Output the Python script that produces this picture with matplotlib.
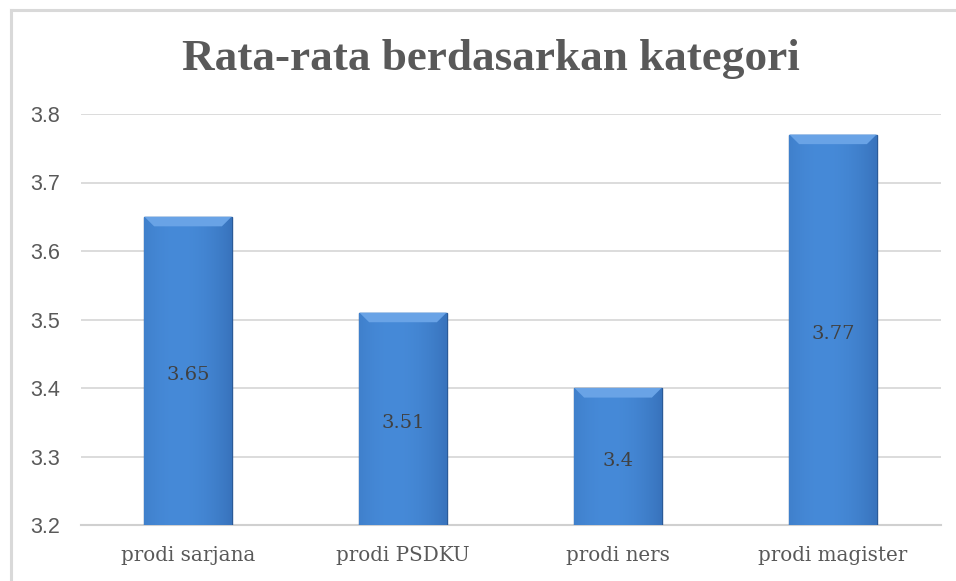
import matplotlib.pyplot as plt
import numpy as np
from matplotlib.lines import Line2D

categories = ["prodi sarjana", "prodi PSDKU", "prodi ners", "prodi magister"]
values = [3.65, 3.51, 3.4, 3.77]
value_labels = ["3.65", "3.51", "3.4", "3.77"]
yticks = [3.2, 3.3, 3.4, 3.5, 3.6, 3.7, 3.8]

serif = ["DejaVu Serif"]
title_font = ["Liberation Serif", "DejaVu Serif"]
sans = ["Liberation Sans", "DejaVu Sans"]

fig = plt.figure(figsize=(9.56, 5.81), dpi=100)
ax = fig.add_axes([80.5 / 956, 1 - 525 / 581, 860 / 956, (525 - 114) / 581])

x = np.arange(len(categories))
bars = ax.bar(x, [v - 3.2 for v in values], bottom=3.2, width=0.405,
              color="#3d7ccb", edgecolor="#2a5a98", linewidth=1.0, zorder=3)

# horizontal gradient + bevelled top for each bar
grad = np.linspace(0, 1, 256)
shade = 1 - 0.5 * (np.abs(grad - 0.4) / 0.6) ** 2
cols = np.zeros((1, 256, 3))
light = np.array([0x46, 0x8a, 0xd8]) / 255
dark = np.array([0x2a, 0x5c, 0xa0]) / 255
for i in range(3):
    cols[0, :, i] = dark[i] + (light[i] - dark[i]) * shade
for b in bars:
    x0, w = b.get_x(), b.get_width()
    y0, h = b.get_y(), b.get_height()
    im = ax.imshow(cols, extent=[x0, x0 + w, y0, y0 + h], aspect="auto",
                   zorder=3.5, interpolation="bicubic")
    im.set_clip_path(b)
    top = 0.014
    ax.fill([x0, x0 + w, x0 + w - 0.045, x0 + 0.045],
            [y0 + h, y0 + h, y0 + h - top, y0 + h - top],
            color="#69a3e6", zorder=3.6, lw=0)

for xi, v, lab in zip(x, values, value_labels):
    ax.text(xi, (3.2 + v) / 2 - 0.006, lab, ha="center", va="center", fontsize=14,
            color="#404040", family=serif, zorder=4)

ax.set_xlim(-0.5, 3.5)
ax.set_ylim(3.2, 3.8)
ax.set_yticks(yticks)
ax.set_yticklabels([f"{t:.1f}" for t in yticks], family=sans, fontsize=15.5, color="#595959")
ax.set_xticks(x)
ax.set_xticklabels(categories, family=serif, fontsize=14.3, color="#595959")
ax.tick_params(length=0)
ax.tick_params(axis="x", pad=15)
ax.tick_params(axis="y", pad=15)
ax.grid(axis="y", color="#d9d9d9", linewidth=1.3, zorder=0)
for s in ["top", "right", "left"]:
    ax.spines[s].set_visible(False)
ax.spines["bottom"].set_color("#d0d0d0")
ax.spines["bottom"].set_linewidth(1.5)

fig.text(491 / 956, 1 - 59 / 581, "Rata-rata berdasarkan kategori", ha="center", va="center",
         fontsize=32.5, fontweight="bold", color="#595959", family=title_font)

# chart border
fig.add_artist(Line2D([10.5 / 956, 1], [1 - 10 / 581] * 2, color="#d9d9d9", lw=2.2,
                      transform=fig.transFigure))
fig.add_artist(Line2D([10.5 / 956] * 2, [0, 1 - 10 / 581], color="#d9d9d9", lw=2.2,
                      transform=fig.transFigure))

fig.savefig("out.png", dpi=100)
